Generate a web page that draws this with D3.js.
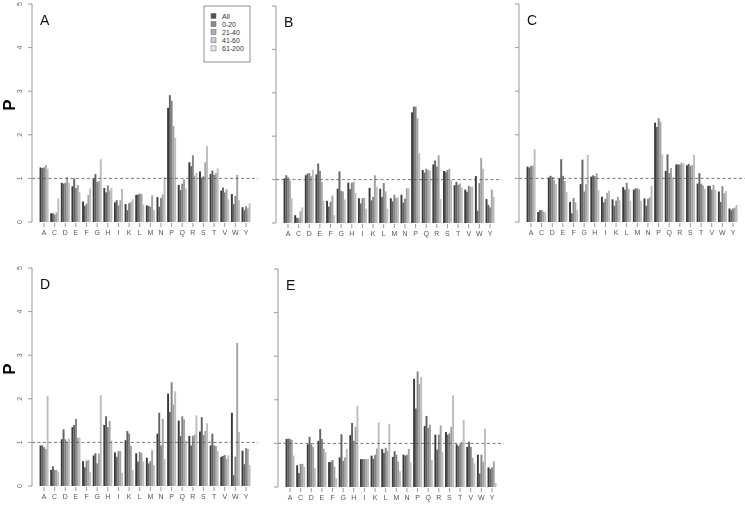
<!DOCTYPE html>
<html>
<head>
<meta charset="utf-8">
<script src="https://cdn.jsdelivr.net/npm/d3@7"></script>
<style>
  body { margin: 0; background: #fff; }
  svg { font-family: "Liberation Sans", Arial, sans-serif; opacity: 0.999; }
</style>
</head>
<body>
<svg id="svg" width="745" height="507"></svg>
<script>
var aminos = ["A","C","D","E","F","G","H","I","K","L","M","N","P","Q","R","S","T","V","W","Y"];
var groups = ["All","0-20","21-40","41-60","61-200"];
var yTicks = [0,1,2,3,4,5];

// one row per amino acid: All, 0-20, 21-40, 41-60, 61-200
var panelA = [
  [1.25,1.24,1.25,1.30,1.22],[0.20,0.20,0.17,0.22,0.54],[0.90,0.88,0.90,1.03,0.90],
  [0.82,1.00,0.78,0.85,0.68],[0.47,0.37,0.42,0.62,0.77],[1.00,1.10,0.92,0.94,1.44],
  [0.78,0.68,0.84,0.72,0.78],[0.45,0.50,0.38,0.50,0.76],[0.41,0.27,0.43,0.46,0.52],
  [0.62,0.63,0.65,0.64,0.40],[0.38,0.37,0.35,0.61,0.27],[0.57,0.35,0.55,0.63,1.03],
  [2.62,2.91,2.78,2.20,1.93],[0.85,0.73,0.88,0.98,0.77],[1.37,1.28,1.53,1.06,1.13],
  [1.16,1.02,1.05,1.37,1.74],[1.10,1.18,1.08,1.12,1.23],[0.72,0.79,0.68,0.75,0.52],
  [0.64,0.41,0.60,1.08,0.50],[0.34,0.27,0.36,0.31,0.43]
];
var panelB = [
  [1.03,1.10,1.05,0.98,0.57],[0.18,0.12,0.11,0.27,0.36],[1.10,1.14,1.15,1.08,1.23],
  [1.12,1.37,1.20,0.95,0.51],[0.51,0.38,0.49,0.63,0.18],[0.79,1.19,0.74,0.73,0.54],
  [0.93,0.78,0.93,0.95,0.69],[0.57,0.45,0.57,0.58,0.33],[0.81,0.52,0.60,1.10,0.84],
  [0.79,0.60,0.92,0.73,0.33],[0.57,0.50,0.65,0.58,0.59],[0.65,0.47,0.56,0.80,0.80],
  [2.55,2.68,2.68,2.41,1.61],[1.22,1.16,1.25,1.22,1.21],[1.35,1.44,1.30,1.56,0.55],
  [1.20,1.18,1.22,1.25,0.99],[0.87,0.95,0.88,0.91,0.82],[0.77,0.72,0.86,0.83,0.84],
  [1.08,0.28,0.92,1.50,1.25],[0.55,0.42,0.36,0.77,0.60]
];
var panelC = [
  [1.27,1.25,1.29,1.29,1.67],[0.23,0.27,0.27,0.24,0.22],[1.02,1.06,1.03,0.96,0.87],
  [1.00,1.44,1.06,0.94,0.69],[0.46,0.20,0.55,0.45,0.27],[0.87,1.43,0.70,0.87,1.54],
  [1.04,1.07,1.05,1.12,0.73],[0.58,0.45,0.53,0.67,0.72],[0.52,0.37,0.49,0.58,0.50],
  [0.80,0.74,0.90,0.76,0.49],[0.74,0.77,0.77,0.75,0.49],[0.54,0.37,0.53,0.57,0.83],
  [2.28,2.18,2.38,2.30,1.55],[1.17,1.55,1.12,1.24,1.03],[1.32,1.32,1.32,1.36,1.34],
  [1.30,1.33,1.28,1.31,1.54],[0.88,1.12,0.88,0.84,0.76],[0.83,0.83,0.74,0.85,0.74],
  [0.70,0.46,0.82,0.66,0.71],[0.31,0.27,0.31,0.33,0.39]
];
var panelD = [
  [0.93,0.93,0.89,0.85,2.06],[0.37,0.45,0.37,0.37,0.33],[1.07,1.30,1.07,1.02,1.09],
  [1.35,1.40,1.54,1.11,1.11],[0.57,0.43,0.58,0.60,0.32],[0.70,0.75,0.52,0.74,2.08],
  [1.40,1.60,1.35,1.49,1.04],[0.77,0.67,0.80,0.80,0.30],[1.05,1.26,1.20,0.92,0.37],
  [0.75,0.56,0.78,0.76,0.56],[0.65,0.52,0.57,0.82,0.48],[1.20,1.68,0.93,1.54,0.62],
  [2.12,1.70,2.38,1.87,2.17],[1.50,1.15,1.60,1.53,1.04],[1.15,0.93,1.15,1.18,1.62],
  [1.25,1.58,1.17,1.26,1.44],[0.93,1.20,0.93,0.92,0.80],[0.67,0.69,0.71,0.62,0.70],
  [1.68,0.25,0.67,3.28,1.24],[0.81,0.50,0.87,0.85,0.48]
];
var panelE = [
  [1.10,1.11,1.10,1.08,0.72],[0.50,0.32,0.53,0.53,0.46],[0.98,1.15,0.98,0.92,0.43],
  [1.06,1.33,1.10,0.88,0.80],[0.57,0.58,0.62,0.47,0.20],[0.68,1.21,0.60,0.68,0.87],
  [1.19,1.47,1.06,1.38,1.86],[0.64,0.64,0.64,0.64,0.64],[0.72,0.65,0.74,0.88,1.48],
  [0.87,0.78,0.90,0.83,1.45],[0.69,0.82,0.74,0.58,0.36],[0.74,0.72,0.74,0.87,0.57],
  [2.48,1.80,2.65,2.36,2.52],[1.40,1.63,1.36,1.43,0.62],[1.20,0.86,1.20,1.41,0.80],
  [1.26,1.20,1.23,1.38,2.10],[0.98,0.94,0.98,1.03,1.54],[0.92,1.04,0.92,0.67,0.54],
  [0.74,0.31,0.74,0.58,1.34],[0.45,0.41,0.45,0.59,0.09]
];

var colors = ["#3a3a3a","#636363","#838383","#a2a2a2","#bdbdbd"];
var legendColors = ["#505050","#888888","#aeaeae","#cccccc","#e8e8e8"];
var svg = d3.select("#svg");
var step = 10.63;

var panels = [
  {name:"A", data:panelA, ax:32,  top:4,   bot:222, labels:true,  legend:true},
  {name:"B", data:panelB, ax:276, top:6,   bot:223, labels:false},
  {name:"C", data:panelC, ax:519, top:4,   bot:222, labels:false},
  {name:"D", data:panelD, ax:32,  top:268, bot:486, labels:true},
  {name:"E", data:panelE, ax:278, top:269, bot:487, labels:false}
];

panels.forEach(function(p) {
  var g = svg.append("g");
  var r0 = p.ax + 12 - step/2;
  var x = d3.scaleBand().domain(aminos).range([r0, r0 + 20*step])
    .paddingInner(1/6).paddingOuter(1/12);
  var xs = d3.scaleBand().domain(groups).range([0, x.bandwidth()]);
  var y = d3.scaleLinear().domain([0,5]).range([p.bot, p.top]);

  // bars
  aminos.forEach(function(a, i) {
    g.selectAll(null).data(p.data[i]).enter().append("rect")
      .attr("x", (d,j) => x(a) + xs(groups[j]))
      .attr("width", xs.bandwidth() + 0.15)
      .attr("y", d => y(d))
      .attr("height", d => y(0) - y(d))
      .attr("fill", (d,j) => colors[j]);
  });

  // reference line at 1
  g.append("line")
    .attr("x1", p.ax).attr("x2", p.ax + 226)
    .attr("y1", y(1)).attr("y2", y(1))
    .attr("stroke", "#555").attr("stroke-width", 0.8)
    .attr("stroke-dasharray", "3,2.5");

  // y axis
  var ya = g.append("g").attr("transform", "translate(" + p.ax + ",0)")
    .call(d3.axisLeft(y).tickValues(yTicks).tickSize(4)
      .tickFormat(p.labels ? d3.format("d") : ""));
  ya.select(".domain").attr("stroke", "#999").attr("d", "M0," + y(0) + "V" + y(5));
  ya.selectAll(".tick").attr("transform", null);
  ya.selectAll(".tick line").attr("stroke", "#999")
    .attr("y1", d => y(d)).attr("y2", d => y(d));
  ya.selectAll(".tick text")
    .attr("fill", "#666").attr("font-size", 7)
    .attr("transform", "rotate(-90)")
    .attr("x", d => -y(d)).attr("y", -10.5).attr("dy", 0)
    .attr("text-anchor", "middle");

  // x axis
  var xa = g.append("g").attr("transform", "translate(0," + (p.bot + 1) + ")")
    .call(d3.axisBottom(x).tickSize(4).tickPadding(3));
  xa.select(".domain").remove();
  xa.selectAll(".tick line").attr("stroke", "#999");
  xa.selectAll(".tick text").attr("fill", "#555").attr("font-size", 7);

  // panel letter
  g.append("text").attr("x", p.ax + 8).attr("y", p.top + 21)
    .attr("font-size", 14).attr("fill", "#111").text(p.name);

  if (p.labels) {
    g.append("text")
      .attr("transform", "translate(15," + ((p.top + p.bot)/2 - 8) + ") rotate(-90)")
      .attr("text-anchor", "middle")
      .attr("font-size", 17).attr("font-weight", "bold").text("P");
  }

  if (p.legend) {
    var lg = g.append("g").attr("transform", "translate(204,6)");
    lg.append("rect").attr("width", 46).attr("height", 56)
      .attr("fill", "#fff").attr("stroke", "#777").attr("stroke-width", 0.8);
    groups.forEach(function(s, j) {
      lg.append("rect").attr("x", 7).attr("y", 7.5 + j*8.1)
        .attr("width", 5).attr("height", 5)
        .attr("fill", legendColors[j]).attr("stroke", "#666").attr("stroke-width", 0.5);
      lg.append("text").attr("x", 18).attr("y", 12.5 + j*8.1)
        .attr("font-size", 7).attr("fill", "#333").text(s);
    });
  }
});
</script>
</body>
</html>
